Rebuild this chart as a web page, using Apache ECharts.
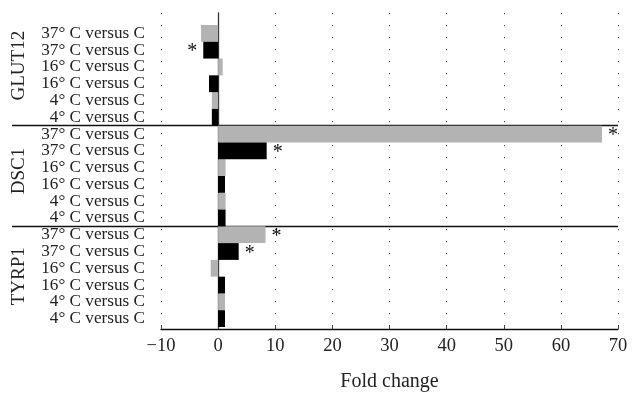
<!DOCTYPE html>
<html>
<head>
<meta charset="utf-8">
<script src="https://cdn.jsdelivr.net/npm/echarts@6/dist/echarts.min.js"></script>
<style>html,body{margin:0;padding:0;background:#fff}#c{width:638px;height:397px}</style>
</head>
<body>
<div id="c"></div>
<script>
// ---- data ----
const genes = ['GLUT12', 'DSC1', 'TYRP1'];
const conditions = ['37° C versus C', '16° C versus C', '4° C versus C'];
// grey bars (first row of each condition pair), per gene: [37, 16, 4]
const greyValues = {
  GLUT12: [-3.0, 0.8, -1.1],
  DSC1:   [67.2, 1.3, 1.3],
  TYRP1:  [8.3, -1.3, 1.2]
};
// black bars (second row of each condition pair)
const blackValues = {
  GLUT12: [-2.6, -1.6, -1.1],
  DSC1:   [8.5, 1.2, 1.3],
  TYRP1:  [3.6, 1.2, 1.2]
};
const greySignificant = {
  GLUT12: [false, false, false],
  DSC1:   [true, false, false],
  TYRP1:  [true, false, false]
};
const blackSignificant = {
  GLUT12: [true, false, false],
  DSC1:   [true, false, false],
  TYRP1:  [true, false, false]
};
const xTicks = [-10, 0, 10, 20, 30, 40, 50, 60, 70];
const xTitle = 'Fold change';

// ---- build rows (top to bottom) ----
const rowLabels = [];
const greyData = [];
const blackData = [];
function item(v, sig) {
  return { value: v, label: { show: sig, position: v < 0 ? 'left' : 'right' } };
}
genes.forEach(g => {
  conditions.forEach((c, k) => {
    rowLabels.push(c);
    greyData.push(item(greyValues[g][k], greySignificant[g][k]));
    blackData.push('-');
    rowLabels.push(c);
    greyData.push('-');
    blackData.push(item(blackValues[g][k], blackSignificant[g][k]));
  });
});

const FONT = '"Liberation Serif", "DejaVu Serif", serif';
const xMin = xTicks[0], xMax = xTicks[xTicks.length - 1];
const starLabel = { show: false, formatter: '*', color: '#111', fontFamily: FONT, fontSize: 20, distance: 6, offset: [0, 2] };

const chart = echarts.init(document.getElementById('c'), null, { renderer: 'canvas' });
chart.setOption({
  animation: false,
  backgroundColor: '#fff',
  grid: [
    { left: 12, right: 20, top: 25, bottom: 70 },   // group separators
    { left: 161, right: 20, top: 13, bottom: 58 },  // axes frame
    { left: 161, right: 20, top: 25, bottom: 70 }   // bars
  ],
  xAxis: [
    { gridIndex: 0, type: 'value', min: 0, max: 1, show: false },
    {
      gridIndex: 1, type: 'value', min: xMin, max: xMax, interval: 10,
      axisLine: { show: true, onZero: false, lineStyle: { color: '#111', width: 1.3 } },
      axisTick: { show: true, inside: true, length: 3, lineStyle: { color: '#444' } },
      axisLabel: { color: '#222', fontFamily: FONT, fontSize: 18.5, margin: 8,
        formatter: v => (v < 0 ? '\u2212' + Math.abs(v) : String(v)) },
      splitLine: { show: true, lineStyle: { color: '#444', width: 1, type: [1.2, 10.8] } },
      name: xTitle, nameLocation: 'middle', nameGap: 43,
      nameTextStyle: { color: '#222', fontFamily: FONT, fontSize: 20 }
    },
    { gridIndex: 2, type: 'value', min: xMin, max: xMax, show: false }
  ],
  yAxis: [
    {
      gridIndex: 0, type: 'category', data: genes, inverse: true,
      axisLine: { show: false }, axisTick: { show: false }, axisLabel: { show: false },
      splitLine: { show: true, showMinLine: false, showMaxLine: false,
        lineStyle: { color: '#111', width: 1.3 } }
    },
    {
      gridIndex: 1, type: 'category', data: genes, inverse: true,
      offset: 132,
      axisLine: { show: false, onZero: false }, axisTick: { show: false },
      splitLine: { show: false },
      axisLabel: { rotate: 90, margin: 0, color: '#222', fontFamily: FONT, fontSize: 19 }
    },
    {
      gridIndex: 1, type: 'value', min: 0, max: 1,
      axisLine: { show: true, onZero: true, lineStyle: { color: '#333', width: 1.3 } },
      axisTick: { show: false }, axisLabel: { show: false }, splitLine: { show: false }
    },
    {
      gridIndex: 2, type: 'category', data: rowLabels, inverse: true,
      axisLine: { show: false }, axisTick: { show: false }, splitLine: { show: false },
      axisLabel: { interval: 0, margin: 16, color: '#222', fontFamily: FONT, fontSize: 17.2 }
    }
  ],
  series: [
    {
      type: 'bar', xAxisIndex: 2, yAxisIndex: 3, data: greyData,
      barGap: '-100%', barCategoryGap: '0%',
      itemStyle: { color: '#b3b3b3' }, label: starLabel, z: 3
    },
    {
      type: 'bar', xAxisIndex: 2, yAxisIndex: 3, data: blackData,
      barGap: '-100%', barCategoryGap: '0%',
      itemStyle: { color: '#000' }, label: starLabel, z: 3
    }
  ]
});
</script>
</body>
</html>
